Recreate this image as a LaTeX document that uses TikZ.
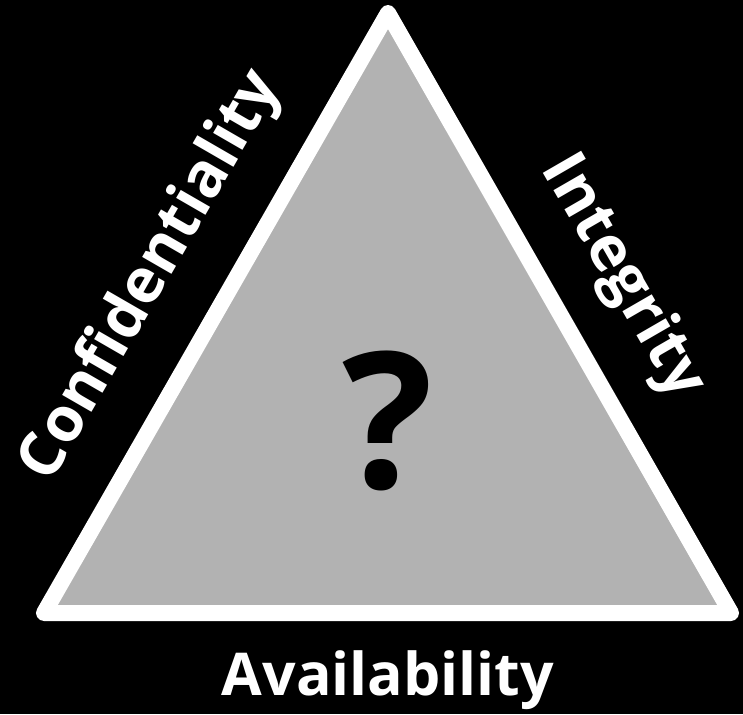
\documentclass[tikz,border=0pt]{standalone}
\usepackage{fontspec}
\setmainfont{Open Sans}
\usetikzlibrary{calc}

\definecolor{trigray}{RGB}{178,178,178}

\begin{document}
\begin{tikzpicture}[
    x=1pt, y=-1pt,
    side label/.style={text=white, inner sep=0pt,
        font=\bfseries\fontsize{62}{62}\selectfont},
    base label/.style={text=white, inner sep=0pt, anchor=base,
        font=\bfseries\fontsize{59}{59}\selectfont},
    mark label/.style={text=black, inner sep=0pt, anchor=base,
        font=\bfseries\fontsize{190}{190}\selectfont}
]

    % black page
    \fill[black] (0,0) rectangle (743,714);
    \useasboundingbox (0,0) rectangle (743,714);

    \coordinate (top) at (388,13);
    \coordinate (left) at (44,613);
    \coordinate (right) at (731,613);

    \draw[white, line width=16pt, line join=round, fill=trigray]
        (top) -- (left) -- (right) -- cycle;

    % labels along the three sides
    \node[side label, rotate=60] (conf)
        at ($(left)!0.5!(top)!74pt!90:(top)$) {Confidentiality};
    \node[side label, rotate=-60] (integ)
        at ($(right)!0.5!(top)!72pt!-90:(top)$) {Integrity};
    \node[base label] (avail) at (388,695) {Availability};

    \node[mark label] (quest) at (388,488) {?};

\end{tikzpicture}
\end{document}
